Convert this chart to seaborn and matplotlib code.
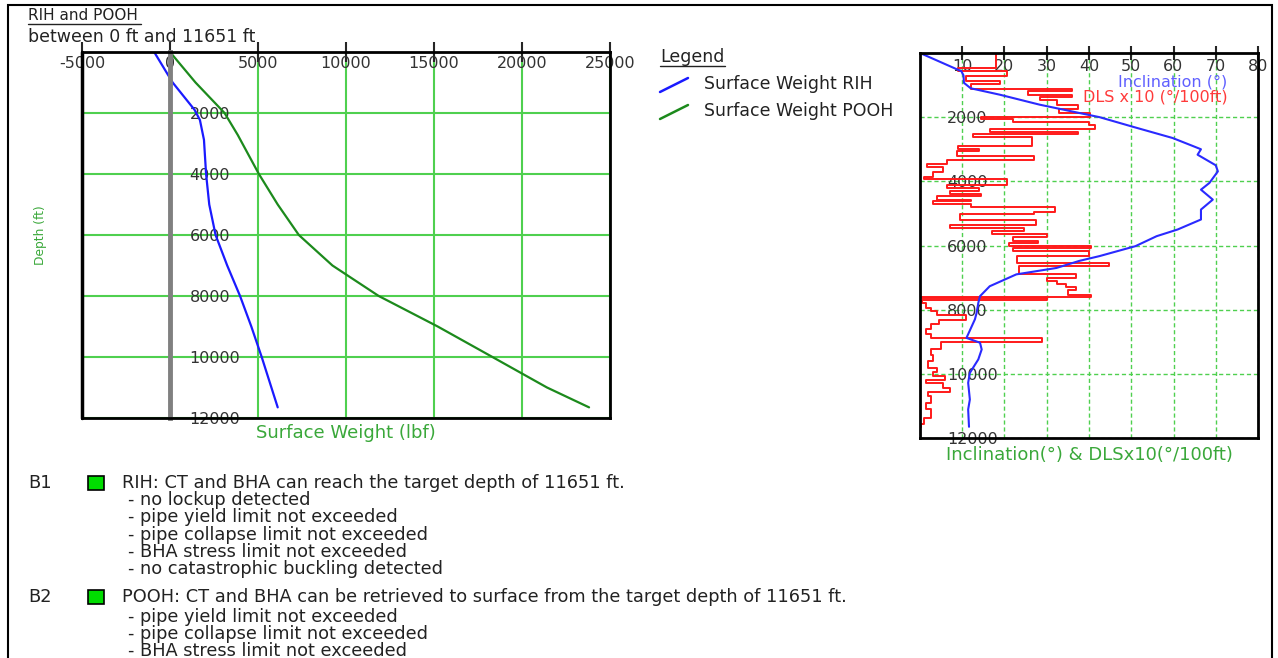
import seaborn as sns
import matplotlib.pyplot as plt
from matplotlib.lines import Line2D
from matplotlib.patches import Rectangle

# surface weight (lbf) vs depth (ft)
rih_depth = [0, 1000, 1900, 2230, 2880, 4000, 5000, 6000, 7000, 8000, 9000, 10000, 11651]
rih_weight = [-900, 150, 1400, 1700, 1930, 2050, 2230, 2590, 3250, 3980, 4620, 5210, 6120]

pooh_depth = [0, 1000, 2000, 2720, 4000, 5000, 6000, 7000, 8000, 9000, 10000, 11000, 11651]
pooh_weight = [0, 1450, 3100, 3850, 5050, 6120, 7320, 9230, 11860, 15210, 18320, 21420, 23810]

# well profile: inclination (deg) vs depth
inc_depth = [0, 570, 700, 930, 1100, 1300, 1610, 1850, 2000, 2300, 2650, 2900, 3000, 3170,
             3500, 3690, 4050, 4260, 4570, 4880, 5190, 5500, 5710, 6020, 6330, 6480, 6700,
             6900, 7270, 7580, 7790, 8100, 8300, 8880, 9030, 9240, 9550, 9970, 10280,
             10800, 11110, 11651]
inc_value = [0, 9.8, 10.3, 10.4, 12, 18.9, 28.3, 37, 42.5, 50.4, 59.8, 64.6, 66.5, 65.7,
             70, 70.5, 68.5, 66.5, 69.3, 66.5, 66.5, 61, 56, 51, 42.5, 37.7, 32.3,
             22.8, 16.5, 14.2, 13.8, 13.4, 13, 11, 14.2, 14.6, 13.8, 11.8, 11.4,
             11.8, 11.4, 11.6]

# dog leg severity x10 (deg/100ft), value holds from this depth to the next
dls_depth = [0, 0, 460, 560, 720, 870, 980, 1120, 1190, 1300, 1370, 1470, 1610, 1760, 1870,
             2010, 2060, 2150, 2230, 2370, 2450, 2540, 2620, 2890, 2980, 3060, 3220, 3350,
             3450, 3550, 3700, 3850, 3940, 4100, 4200, 4300, 4410, 4460, 4570, 4620, 4720,
             4800, 4950, 5030, 5190, 5350, 5450, 5550, 5650, 5750, 5850, 5930, 6030, 6080,
             6180, 6340, 6540, 6650, 6900, 7010, 7100, 7200, 7300, 7400, 7530, 7610, 7650,
             7700, 7800, 7950, 8050, 8180, 8330, 8450, 8600, 8750, 8880, 9000, 9240, 9400,
             9600, 9810, 9950, 10070, 10200, 10300, 10440, 10560, 10700, 10900, 11100,
             11370, 11550, 11651]
dls_value = [0, 18, 9, 20.5, 11, 19, 12, 36, 25.5, 36, 28.5, 32.5, 37.5, 33, 40.2,
             14.5, 22, 40, 41.5, 16.5, 37.5, 12.5, 26.5, 9, 14, 8.7, 27, 6.3,
             1.6, 5.5, 3, 1, 20.5, 6.3, 14, 7, 14.5, 4, 12, 3, 12,
             32, 27, 9.4, 27.5, 7, 24.5, 17, 30, 22, 28, 21, 40.5, 22,
             40, 23, 44.7, 23.4, 37, 30, 32.5, 34.5, 37, 35, 40.5, 0.3, 30,
             0.5, 1.5, 2.5, 4, 11, 4.5, 2.5, 1.5, 2.5, 28.8, 5, 2.5, 3,
             2, 4, 3, 6, 1.5, 5.5, 7, 2, 2.5, 1.5, 2.5,
             1, 0.3, 0.3]

weight_ticks = [-5000, 0, 5000, 10000, 15000, 20000, 25000]
depth_ticks = [2000, 4000, 6000, 8000, 10000, 12000]
inc_ticks = [10, 20, 30, 40, 50, 60, 70, 80]

b1_lines = ["- no lockup detected", "- pipe yield limit not exceeded",
            "- pipe collapse limit not exceeded", "- BHA stress limit not exceeded",
            "- no catastrophic buckling detected"]
b2_lines = ["- pipe yield limit not exceeded", "- pipe collapse limit not exceeded",
            "- BHA stress limit not exceeded"]

sns.set_style('white')
plt.rcParams['font.family'] = ['DejaVu Sans']
plt.rcParams['axes.unicode_minus'] = False

W, H = 1278, 658
fig = plt.figure(figsize=(W / 100, H / 100), dpi=100)


def fx(px):
    return px / W


def fy(py):
    return 1 - py / H


GRID = '#4fd04f'
LABEL_GREEN = '#3aa83a'
TXT = '#222222'
TICK_FS = 11.5
BODY_FS = 12.8

# ---- left panel: surface weight ----
ax = fig.add_axes([fx(82), fy(418), fx(610) - fx(82), fy(52) - fy(418)])
sns.lineplot(x=pooh_weight, y=pooh_depth, sort=False, orient='y', estimator=None,
             color='#1c8a1c', lw=1.6, ax=ax)
sns.lineplot(x=rih_weight, y=rih_depth, sort=False, orient='y', estimator=None,
             color='#1a1aff', lw=1.6, ax=ax)
ax.set_xlim(-5000, 25000)
ax.set_ylim(12000, 0)
ax.set_xticks(weight_ticks)
ax.set_yticks(depth_ticks)
ax.grid(True, color=GRID, lw=1.5)
ax.xaxis.tick_top()
ax.tick_params(axis='x', direction='inout', length=14, width=1.5, pad=-10,
               labelsize=TICK_FS, labelcolor='#333333')
for lbl in ax.get_xticklabels():
    lbl.set_va('top')
ax.spines['left'].set_position(('data', 0))
ax.spines['left'].set_color('#808080')
ax.spines['left'].set_linewidth(3.5)
for s in ['top', 'right', 'bottom']:
    ax.spines[s].set_color('black')
    ax.spines[s].set_linewidth(2)
ax.axvline(-5000, color='black', lw=2.5, clip_on=False)
ax.tick_params(axis='y', direction='inout', length=24, width=1.5, pad=-26,
               labelsize=TICK_FS, labelcolor='#333333', color='black')
for lbl in ax.get_yticklabels():
    lbl.set_ha('left')
ax.xaxis.set_label_position('bottom')
ax.set_xlabel('Surface Weight (lbf)', color=LABEL_GREEN, fontsize=13, labelpad=4)
ax.set_ylabel('Depth (ft)', color=LABEL_GREEN, fontsize=8.8)
ax.yaxis.set_label_coords(-0.066, 0.5)

# legend
fig.text(fx(660), fy(57), 'Legend', fontsize=12.5, va='center', color=TXT)
fig.add_artist(Line2D([fx(660), fx(725)], [fy(66), fy(66)], color=TXT, lw=1))
fig.add_artist(Line2D([fx(660), fx(688)], [fy(92), fy(78)], color='#1a1aff', lw=1.8))
fig.add_artist(Line2D([fx(660), fx(688)], [fy(119), fy(105)], color='#1c8a1c', lw=1.8))
fig.text(fx(704), fy(84), 'Surface Weight RIH', fontsize=12.5, va='center', color=TXT)
fig.text(fx(704), fy(111), 'Surface Weight POOH', fontsize=12.5, va='center', color=TXT)

# ---- right panel: inclination & DLS ----
ax2 = fig.add_axes([fx(920), fy(438), fx(1258) - fx(920), fy(53) - fy(438)])
sns.lineplot(x=dls_value, y=dls_depth, sort=False, orient='y', estimator=None,
             drawstyle='steps-pre', color='#ff1a1a', lw=1.4, ax=ax2)
sns.lineplot(x=inc_value, y=inc_depth, sort=False, orient='y', estimator=None,
             color='#2a2aff', lw=1.5, ax=ax2)
ax2.set_xlim(0, 80)
ax2.set_ylim(12000, 0)
ax2.set_xticks(inc_ticks)
ax2.set_yticks(depth_ticks)
ax2.grid(True, color=GRID, lw=1, ls=(0, (3, 2)))
ax2.xaxis.tick_top()
ax2.tick_params(axis='x', direction='inout', length=10, width=1.5, pad=-9,
                labelsize=TICK_FS, labelcolor='#333333')
for lbl in ax2.get_xticklabels():
    lbl.set_va('top')
ax2.tick_params(axis='y', direction='inout', length=25, width=1.5, pad=-32,
                labelsize=TICK_FS, labelcolor='#333333')
for lbl in ax2.get_yticklabels():
    lbl.set_ha('left')
for s in ax2.spines.values():
    s.set_color('black')
    s.set_linewidth(2)
ax2.xaxis.set_label_position('bottom')
ax2.set_xlabel('Inclination(°) & DLSx10(°/100ft)', color=LABEL_GREEN, fontsize=13, labelpad=6)
ax2.text(72.8, 900, 'Inclination (°)', color='#6060ff', fontsize=11.5, ha='right', va='center')
ax2.text(72.8, 1380, 'DLS x 10 (°/100ft)', color='#ff3a3a', fontsize=11.5, ha='right', va='center')

# ---- titles ----
fig.text(fx(28), fy(16), 'RIH and POOH', fontsize=11, va='center', color=TXT)
fig.add_artist(Line2D([fx(28), fx(141)], [fy(24), fy(24)], color=TXT, lw=1))
fig.text(fx(28), fy(37), 'between 0 ft and 11651 ft', fontsize=12.5, va='center', color=TXT)

# ---- check results ----
def block(tag, y, headline, lines, y0, step):
    fig.text(fx(28), fy(y), tag, fontsize=BODY_FS, va='center', color=TXT)
    fig.add_artist(Rectangle((fx(88), fy(y + 7)), fx(16), fy(0) - fy(14),
                             facecolor='#00dd00', edgecolor='black', lw=1.2))
    fig.text(fx(122), fy(y), headline, fontsize=BODY_FS, va='center', color=TXT)
    for i, line in enumerate(lines):
        fig.text(fx(128), fy(y0 + i * step), line, fontsize=BODY_FS, va='center', color=TXT)


block('B1', 483, 'RIH: CT and BHA can reach the target depth of 11651 ft.', b1_lines, 500, 17.3)
block('B2', 597, 'POOH: CT and BHA can be retrieved to surface from the target depth of 11651 ft.',
      b2_lines, 617, 17)

# outer frame
fig.add_artist(Rectangle((fx(8), fy(700)), fx(1264), fy(5) - fy(700),
                         fill=False, edgecolor='black', lw=1.5))

fig.savefig('out.png', dpi=100)
